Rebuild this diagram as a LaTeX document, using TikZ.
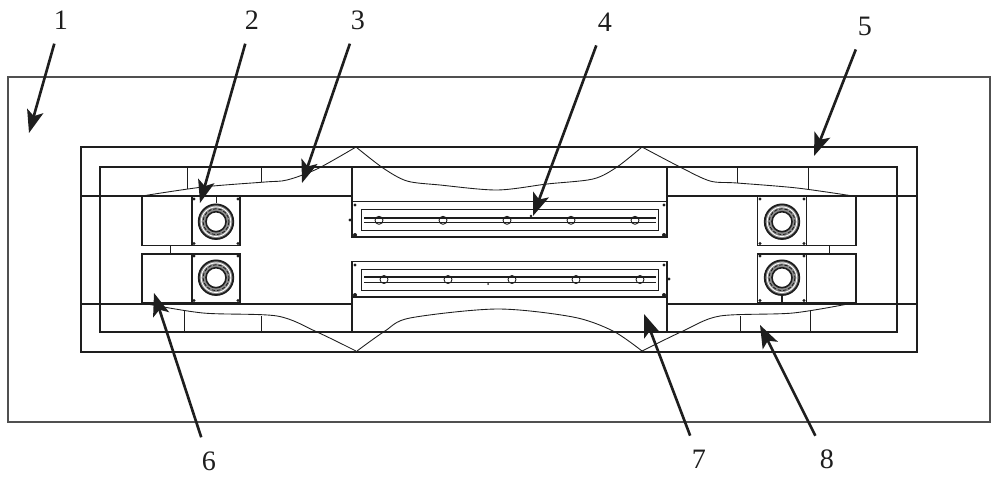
\documentclass[tikz,border=0pt]{standalone}
\usepackage{amssymb, amsmath}
\usepackage{fontspec}
\setmainfont{Liberation Serif}
\usepackage{tikz}
\usetikzlibrary{arrows.meta}
\definecolor{ink}{RGB}{30, 30, 30}
\definecolor{band}{RGB}{140, 140, 140}
\definecolor{shell}{RGB}{80, 80, 80}
\tikzset{
  pointer/.style={ink, line width=1.5pt, -{Stealth[length=13pt, width=9.5pt, inset=3pt]}, shorten <=5pt},
  tag/.style={inner sep=3pt, font=\fontsize{16}{16}\selectfont, ink},
  thinline/.style={ink, line width=0.5pt},
  pin/.style={ink, fill=ink}
}

\begin{document}
\begin{tikzpicture}[x=0.02cm, y=-0.02cm, color=ink, line width=0.75pt]
  \useasboundingbox (0, 0) rectangle (1000, 480);

  \draw [shell] (8, 77) rectangle (990, 422);
  \draw (81, 147) rectangle (917, 352);
  \draw (100, 167) rectangle (897, 332);
  \draw (81, 196) -- (352, 196);
  \draw (667, 196) -- (917, 196);
  \draw (81, 304) -- (352, 304);
  \draw (667, 304) -- (917, 304);

  \foreach \xa/\ya in {187/189, 261/182, 737/183, 808/189} {
    \draw [thinline] (\xa, 167) -- (\xa, \ya);
  }
  \foreach \xa/\ya in {184/311, 261/316, 740/316, 810/311} {
    \draw [thinline] (\xa, \ya) -- (\xa, 332);
  }

  \draw [thinline] plot [smooth, tension=0.5] coordinates {(142, 196) (203, 187) (265, 182) (287, 180) (317, 169) (356, 147)};
  \draw [thinline] plot [smooth, tension=0.5] coordinates {(356, 147) (383, 168) (407, 181) (440, 185) (497, 190) (547, 184) (593, 179) (617, 167) (642, 147)};
  \draw [thinline] plot [smooth, tension=0.5] coordinates {(642, 147) (680, 167) (710, 181) (737, 183) (797, 188) (853, 196)};
  \draw [thinline] plot [smooth, tension=0.5] coordinates {(142, 303) (203, 313) (277, 316) (317, 332) (356, 351)};
  \draw [thinline] plot [smooth, tension=0.5] coordinates {(357, 351) (385, 331) (410, 318) (497, 309) (573, 317) (613, 331) (642, 351)};
  \draw [thinline] plot [smooth, tension=0.5] coordinates {(642, 351) (683, 331) (720, 316) (793, 313) (853, 303)};

  \foreach \xa/\xb/\xc in {142/192/240, 757.5/806.5/856} {
    \foreach \ya in {196.5, 254} {
      \draw (\xa, \ya) rectangle (\xc, {\ya + 49});
      \draw (\xb, \ya) -- (\xb, {\ya + 49});
    }
  }
  \draw [thinline] (170, 246) -- (170, 254);
  \draw [thinline] (829, 246) -- (829, 254);
  \draw [thinline] (216, 197) -- (216, 203);
  \draw (782, 296) -- (782, 303);

  \foreach \xa/\ya in {216/221.7, 216/277.7, 782/221.7, 782/277.7} {
    \fill [band] (\xa, \ya) circle (18);
    \draw [line width=1pt] (\xa, \ya) circle (17.3);
    \draw [white, line width=0.5pt] (\xa, \ya) circle (14.8);
    \draw [thinline, dashed, dash pattern=on 2pt off 1pt] (\xa, \ya) circle (13);
    \draw [line width=0.9pt, fill=white] (\xa, \ya) circle (10);
  }
  \foreach \xa/\xb in {194/238, 760/804} {
    \foreach \ya in {199, 243.5, 256, 300.5} {
      \fill [pin] (\xa, \ya) circle (1.7);
      \fill [pin] (\xb, \ya) circle (1.7);
    }
  }

  \draw (352, 167.7) rectangle (667, 237);
  \draw (352, 201.7) -- (667, 201.7);
  \draw (352, 261.7) rectangle (667, 331.7);
  \draw (352, 297) -- (667, 297);

  \draw [thinline] (361.7, 209) rectangle (658, 230.7);
  \draw [thinline] (361.7, 269.3) rectangle (658, 290);
  \draw (364, 218) -- (656, 218);
  \draw [thinline] (364, 222.7) -- (656, 222.7);
  \draw (364, 277) -- (656, 277);
  \draw [thinline] (364, 282) -- (656, 282);
  \foreach \xa in {379, 443, 507, 571, 635} {
    \draw [thinline] (\xa, 220.3) circle (4);
    \draw [thinline] ({\xa + 5}, 279.5) circle (4);
  }
  \foreach \xa in {355, 664} {
    \fill [pin] (\xa, 205) circle (1.6);
    \fill [pin] (\xa, 235) circle (2);
    \fill [pin] (\xa, 265) circle (1.6);
    \fill [pin] (\xa, 295) circle (2);
  }
  \fill [pin] (350, 220) circle (1.7);
  \fill [pin] (669, 279) circle (1.7);
  \fill [pin] (531, 216) circle (1.4);
  \fill [pin] (488, 284) circle (1);

  \node [tag] (lab1) at (61, 20) {1};
  \node [tag] (lab2) at (252, 20) {2};
  \node [tag] (lab3) at (358, 20) {3};
  \node [tag] (lab4) at (605, 22) {4};
  \node [tag] (lab5) at (865, 26) {5};
  \node [tag] (lab6) at (209, 461) {6};
  \node [tag] (lab7) at (699, 459) {7};
  \node [tag] (lab8) at (827, 459) {8};

  \coordinate (tip1) at (29, 133);
  \coordinate (tip2) at (200, 203);
  \coordinate (tip3) at (302, 183);
  \coordinate (tip4) at (533, 216);
  \coordinate (tip5) at (814, 156);
  \coordinate (tip6) at (154, 293);
  \coordinate (tip7) at (644, 314);
  \coordinate (tip8) at (760, 325);

  \foreach \n in {1, ..., 8} {
    \draw [pointer] (lab\n) -- (tip\n);
  }
\end{tikzpicture}
\end{document}
